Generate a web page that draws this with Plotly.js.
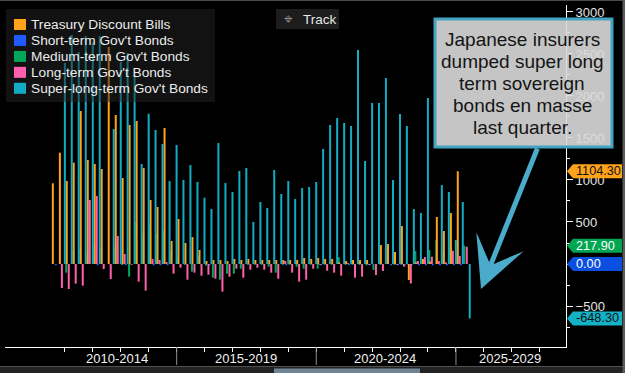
<!DOCTYPE html>
<html><head><meta charset="utf-8">
<script src="https://cdn.plot.ly/plotly-3.0.1.min.js"></script>
<style>html,body{margin:0;padding:0;background:#000;overflow:hidden}#chart{width:625px;height:373px}</style>
</head><body><div id="chart"></div>
<script>
// ---------------- DATA ----------------
const quarters = [
 '2010Q3','2010Q4',
 '2011Q1','2011Q2','2011Q3','2011Q4',
 '2012Q1','2012Q2','2012Q3','2012Q4',
 '2013Q1','2013Q2','2013Q3','2013Q4',
 '2014Q1','2014Q2','2014Q3','2014Q4',
 '2015Q1','2015Q2','2015Q3','2015Q4',
 '2016Q1','2016Q2','2016Q3','2016Q4',
 '2017Q1','2017Q2','2017Q3','2017Q4',
 '2018Q1','2018Q2','2018Q3','2018Q4',
 '2019Q1','2019Q2','2019Q3','2019Q4',
 '2020Q1','2020Q2','2020Q3','2020Q4',
 '2021Q1','2021Q2','2021Q3','2021Q4',
 '2022Q1','2022Q2','2022Q3','2022Q4',
 '2023Q1','2023Q2','2023Q3','2023Q4',
 '2024Q1','2024Q2','2024Q3','2024Q4',
 '2025Q1','2025Q2'];

const seriesNames = ['Treasury Discount Bills', "Short-term Gov't Bonds", "Medium-term Gov't Bonds", "Long-term Gov't Bonds", "Super-long-term Gov't Bonds"];

const treasuryBills = [961,1325,988,1206,1821,1238,1190,1131,2583,1774,
 1024,1655,1702,1143,762,679,1619,274,536,250,
 321,167,36,48,48,36,60,48,60,48,
 48,48,48,48,48,48,71,60,71,60,
 60,20,36,48,48,48,0,226,238,143,
 452,-190,20,60,30,560,393,607,1104.3,null];

const shortTerm = [-15,0,0,0,0,0,-15,0,0,0,
 -15,0,0,0,-15,-15,-15,0,0,0,
 0,0,-15,0,0,0,0,0,0,0,
 0,0,0,-15,0,0,0,0,-15,0,
 0,0,-15,0,0,-15,0,0,-15,-15,
 -15,-15,-15,-15,-15,-15,-15,-15,-15,0];

const mediumTerm = [0,0,-103,155,179,131,230,194,0,206,
 -12,-151,500,369,488,361,393,167,60,-10,
 -91,95,-20,-163,-187,-115,-115,-56,-10,-10,
 -10,-32,-103,-10,-10,-32,-56,-10,-56,-10,
 -10,83,-10,-10,-10,-15,-71,-10,20,-10,
 -10,-10,155,0,167,286,150,214,120,217.9];

const longTerm = [0,-286,-298,-234,-258,762,810,-60,-179,333,
 119,-10,-210,-317,60,48,24,-115,-44,-187,
 -103,-139,-127,-175,-329,-151,-56,-163,-68,-44,
 -68,-103,-175,36,-103,-210,-187,-56,-10,-80,
 -103,-139,10,-163,-151,-10,-131,-83,0,-10,
 -32,-232,36,83,87,36,20,157,95,206];

const superLong = [null,2393,2726,2524,2714,2643,2714,null,1607,2405,
 2512,2250,1190,1789,1595,1429,988,1417,1000,1179,
 976,790,655,1440,964,857,1107,1143,500,738,
 667,1119,833,988,774,905,917,976,1369,1655,
 1738,1679,1643,2548,1226,1917,1917,2214,1000,1786,
 1643,655,607,1976,null,940,857,286,738,-648.3];

const periodLabels = ['2010-2014','2015-2019','2020-2024','2025-2029'];
const yTickVals = [-500, 0, 500, 1000, 1500, 2000, 2500, 3000];
const yTickText = ['\u2212500', '', '500', '1000', '1500', '2000', '2500', '3000'];
const calloutLines = ['Japanese insurers','dumped super long','term sovereign','bonds en masse','last quarter.'];

// ---------------- STYLE / LAYOUT ----------------
const colors = ['#ffa31a','#1f5bff','#00a859','#ff5fae','#12adc4'];
const L=5, R=566, T=5, B=347;
const px = x => (x-L)/(R-L);
const py = y => (B-y)/(B-T);
const YMIN=-988, YMAX=3083;
const UPP = (YMAX-YMIN)/(B-T); // y units per pixel
const MSPX = 3.15576e10/27.93;  // ms per pixel on x axis

const qEnd = {Q1:'-03-31',Q2:'-06-30',Q3:'-09-30',Q4:'-12-31'};
const dates = quarters.map(q => q.slice(0,4) + qEnd[q.slice(4)]);

const series = [treasuryBills, shortTerm, mediumTerm, longTerm, superLong];
const offsetsPx = [-6, -3, -6.5, -4, -1];
const drawOrder = [2, 0, 1, 3, 4];

const traces = drawOrder.map(k => ({
  type:'bar', name: seriesNames[k], x: dates, y: series[k],
  marker:{color: colors[k], line:{width:0}},
  width: 2*MSPX, offset: offsetsPx[k]*MSPX,
  showlegend:false, hoverinfo:'skip'
}));

const shapes = [];
const annotations = [];

// x separators for 5-year periods
['2015-01-01','2020-01-01','2025-01-01'].forEach(d => shapes.push({type:'line', xref:'x', yref:'paper', x0:d, x1:d, y0:0, y1:py(365), line:{color:'#8c8c8c', width:1}}));
const labelPx = [116.6, 245.6, 385.3, 510];
periodLabels.forEach((t,i) => annotations.push({text:t, xref:'paper', yref:'paper', x:px(labelPx[i]), y:py(358), xanchor:'center', yanchor:'middle', showarrow:false, font:{size:13, color:'#f0f0f0'}}));

// bottom navigator strip and frame
shapes.push({type:'rect', xref:'paper', yref:'paper', x0:px(0), x1:px(625), y0:py(373), y1:py(366.5), fillcolor:'#232323', line:{width:0}, layer:'below'});
shapes.push({type:'line', xref:'paper', yref:'paper', x0:px(0), x1:px(625), y0:py(366.5), y1:py(366.5), line:{color:'#505050', width:1}});
shapes.push({type:'rect', xref:'paper', yref:'paper', x0:px(274), x1:px(420), y0:py(373), y1:py(368.5), fillcolor:'rgba(125,150,170,0.85)', line:{width:0}});
shapes.push({type:'line', xref:'paper', yref:'paper', x0:px(0), x1:px(625), y0:py(0.5), y1:py(0.5), line:{color:'#4a4a4a', width:1}});
shapes.push({type:'rect', xref:'paper', yref:'paper', x0:px(622.5), x1:px(625), y0:py(373), y1:py(0), fillcolor:'#5a5a5a', line:{width:0}});

// legend (drawn)
shapes.push({type:'rect', xref:'paper', yref:'paper', x0:px(6), x1:px(215), y0:py(102), y1:py(9), fillcolor:'rgba(36,36,36,0.5)', line:{width:0}, layer:'above'});
seriesNames.forEach((n,k) => {
  const cy = 24.5 + 15.95*k;
  shapes.push({type:'rect', xref:'paper', yref:'paper', x0:px(14), x1:px(26), y0:py(cy+5.5), y1:py(cy-5.5), fillcolor:colors[k], line:{width:0}, layer:'above'});
  annotations.push({text:n, xref:'paper', yref:'paper', x:px(29), y:py(cy), xanchor:'left', yanchor:'middle', showarrow:false, font:{size:13.7, color:'#ececec'}});
});

// Track button
shapes.push({type:'rect', xref:'paper', yref:'paper', x0:px(276), x1:px(339), y0:py(29), y1:py(9), fillcolor:'#1d1d1d', line:{width:0}, layer:'above'});
annotations.push({text:'⌖', xref:'paper', yref:'paper', x:px(288), y:py(19), xanchor:'center', yanchor:'middle', showarrow:false, font:{family:'DejaVu Sans', size:15, color:'#8a8a8a'}});
annotations.push({text:'Track', xref:'paper', yref:'paper', x:px(301), y:py(19), xanchor:'left', yanchor:'middle', showarrow:false, font:{size:13.5, color:'#e6e6e6'}});

// last-value tags
function lastVal(arr){ for(let i=arr.length-1;i>=0;i--){ if(arr[i]!==null) return arr[i]; } return null; }
const tags = [
  {v:lastVal(treasuryBills), bg:colors[0], fg:'#111'},
  {v:lastVal(mediumTerm), bg:'#00a651', fg:'#ffffff'},
  {v:lastVal(shortTerm), bg:'#0a4fe0', fg:'#ffffff'},
  {v:lastVal(superLong), bg:'#14b2c6', fg:'#111'}
];
tags.forEach(t => {
  const h = 7*UPP, v = t.v;
  shapes.push({type:'path', xref:'paper', yref:'y', layer:'above',
    path:`M ${px(567)},${v} L ${px(573)},${v+h} L ${px(622)},${v+h} L ${px(622)},${v-h} L ${px(573)},${v-h} Z`,
    fillcolor:t.bg, line:{width:0}});
  annotations.push({text:v.toFixed(2), xref:'paper', yref:'y', x:px(574), y:v, xanchor:'left', yanchor:'middle', showarrow:false, font:{size:12.7, color:t.fg}});
});

// callout box + arrow
shapes.push({type:'rect', xref:'paper', yref:'paper', x0:px(435), x1:px(612), y0:py(147), y1:py(19), fillcolor:'rgba(218,218,218,0.9)', line:{color:'#45a3c2', width:3}, layer:'above'});
const lineY = [39, 61, 83, 105, 127];
calloutLines.forEach((t,i) => annotations.push({text:t, xref:'paper', yref:'paper', x:px(522), y:py(lineY[i]), xanchor:'center', yanchor:'middle', showarrow:false, font:{family:'Liberation Sans, Arial, sans-serif', size:19, color:'#141414'}}));
annotations.push({text:'', xref:'paper', yref:'paper', x:px(481), y:py(289), ax:57, ay:-142, showarrow:true, arrowhead:3, arrowsize:1.7, arrowwidth:5, arrowcolor:'#4aabcb'});

const layout = {
  width:625, height:373, paper_bgcolor:'#000', plot_bgcolor:'#000',
  margin:{l:L, r:625-R, t:T, b:373-B, pad:0},
  font:{family:'Liberation Sans, Arial, sans-serif', color:'#e6e6e6', size:13},
  barmode:'overlay', showlegend:false, hovermode:false,
  xaxis:{type:'date', range:['2008-11-08','2028-12-10'], showgrid:false, zeroline:false,
    showline:true, linecolor:'#ffffff', linewidth:1, ticks:'outside', ticklen:4, tickcolor:'#ffffff',
    tickmode:'array', tickvals:['2011','2012','2013','2014','2015','2016','2017','2018','2019','2020','2021','2022','2023','2024','2025','2026','2027','2028'].map(y=>y+'-01-01'),
    showticklabels:false, fixedrange:true},
  yaxis:{side:'right', range:[YMIN,YMAX], tickmode:'array', tickvals:yTickVals, ticktext:yTickText,
    showgrid:false, zeroline:false,
    showline:true, linecolor:'#ffffff', linewidth:1, ticks:'outside', ticklen:6, tickcolor:'#ffffff',
    tickfont:{size:13, color:'#e2e2e2'},
    minor:{tickmode:'array', tickvals:[-750,-250,250,750,1250,1750,2250,2750], ticks:'outside', ticklen:3, tickcolor:'#ffffff'}, fixedrange:true},
  shapes, annotations
};

Plotly.newPlot('chart', traces, layout, {displayModeBar:false, staticPlot:true});
</script></body></html>
